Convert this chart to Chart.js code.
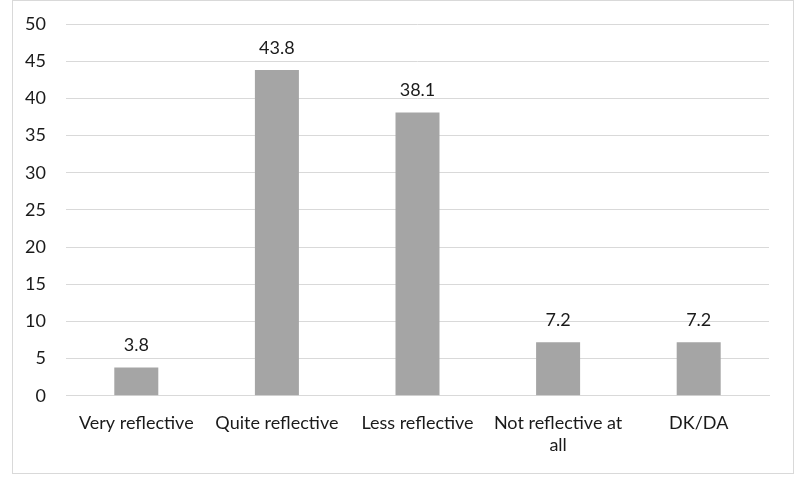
<!DOCTYPE html>
<html>
<head>
<meta charset="utf-8">
<script src="https://cdn.jsdelivr.net/npm/chart.js@4"></script>
<style>
  body { margin: 0; background: #fff; }
  .chart-box { position: absolute; left: 12px; top: 0px; width: 780px; height: 472px; border: 1px solid #d9d9d9; }
</style>
</head>
<body>
<div class="chart-box"><canvas id="myChart" width="780" height="472"></canvas></div>
<script>
// data
const categories = ['Very reflective', 'Quite reflective', 'Less reflective', ['Not reflective at', 'all'], 'DK/DA'];
const values = [3.8, 43.8, 38.1, 7.2, 7.2];
const y_ticks = [0, 5, 10, 15, 20, 25, 30, 35, 40, 45, 50];

const text_font = { family: 'Lato, sans-serif', size: 18 };

// draws the number above each bar
const barLabels = {
  id: 'barLabels',
  afterDatasetsDraw(chart) {
    const ctx = chart.ctx;
    const meta = chart.getDatasetMeta(0);
    ctx.save();
    ctx.font = '18px Lato, sans-serif';
    ctx.fillStyle = '#1a1a1a';
    ctx.textAlign = 'center';
    ctx.textBaseline = 'bottom';
    meta.data.forEach(function(bar, i){
      ctx.fillText(values[i].toFixed(1), bar.x, bar.y - 13);
    });
    ctx.restore();
  }
};

new Chart(document.getElementById('myChart'), {
  type: 'bar',
  data: {
    labels: categories,
    datasets: [{
      data: values,
      backgroundColor: '#a5a5a5',
      barPercentage: 0.313,
      categoryPercentage: 1
    }]
  },
  options: {
    responsive: false,
    animation: false,
    layout: { padding: { top: 23, right: 24, bottom: 0, left: 0 } },
    plugins: {
      legend: { display: false },
      tooltip: { enabled: false }
    },
    scales: {
      x: {
        grid: { display: false, drawTicks: false },
        border: { color: '#d9d9d9' },
        ticks: {
          color: '#1a1a1a',
          font: text_font,
          padding: 17,
          maxRotation: 0,
          autoSkip: false
        }
      },
      y: {
        min: 0,
        max: 50,
        afterBuildTicks: function(axis){
          axis.ticks = y_ticks.map(function(v){ return { value: v }; });
        },
        afterFit: function(axis){
          // fixed label column, and no extra room above the top tick
          axis.width = 53;
          axis.paddingTop = 0;
          axis.paddingBottom = 0;
        },
        grid: { color: '#d9d9d9', drawTicks: false },
        border: { display: false },
        ticks: {
          color: '#1a1a1a',
          font: text_font,
          padding: 20
        }
      }
    }
  },
  plugins: [barLabels]
});
</script>
</body>
</html>
